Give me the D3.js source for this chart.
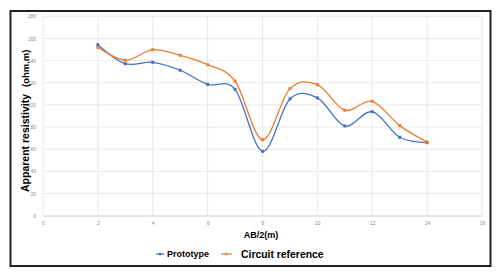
<!DOCTYPE html>
<html>
<head>
<meta charset="utf-8">
<script src="https://cdn.jsdelivr.net/npm/d3@7"></script>
<style>
  body { margin: 0; background: #fff; }
  text { font-family: "Liberation Sans", Arial, sans-serif; }
</style>
</head>
<body>
<svg class="chart"></svg>
<script>
var spacing = [2, 3, 4, 5, 6, 7, 8, 9, 10, 11, 12, 13, 14]
var prototype = [154.4, 137.2, 138.5, 131.3, 118.6, 114.1, 58.1, 105.4, 106.3, 81, 93.9, 70.8, 65.9]
var circuit = [152, 140.3, 149.9, 144.8, 136.3, 121.6, 68.6, 114.7, 118.3, 95.2, 103.3, 81.3, 66.5]
var xTicks = [0, 2, 4, 6, 8, 10, 12, 14, 16]
var yTicks = [0, 20, 40, 60, 80, 100, 120, 140, 160, 180]

var width = 500;
var height = 273;
var svg = d3.select(".chart").attr("width", width).attr("height", height)

// outer frame
svg.append("rect")
    .attr("x", 10.5).attr("y", 11)
    .attr("width", 480).attr("height", 255)
    .attr("fill", "#fff")
    .attr("stroke", "#222")
    .attr("stroke-width", 2);

var x_scale = d3.scaleLinear().domain([0, 16]).range([43, 482]);
var y_scale = d3.scaleLinear().domain([0, 180]).range([215.7, 16.3]);

// grid
svg.append("g").selectAll("line").data(yTicks).join("line")
    .attr("x1", 43).attr("x2", 482)
    .attr("y1", function(d){ return y_scale(d) }).attr("y2", function(d){ return y_scale(d) })
    .attr("stroke", "#e4e4e4").attr("stroke-width", 0.8);
svg.append("g").selectAll("line").data(xTicks).join("line")
    .attr("y1", y_scale(0)).attr("y2", y_scale(180))
    .attr("x1", function(d){ return x_scale(d) }).attr("x2", function(d){ return x_scale(d) })
    .attr("stroke", "#e4e4e4").attr("stroke-width", 0.8);

var x_axis = d3.axisBottom(x_scale).tickValues(xTicks).tickSize(0).tickPadding(6)
var y_axis = d3.axisLeft(y_scale).tickValues(yTicks).tickSize(0).tickPadding(7)

var gx = svg.append("g").attr("transform", "translate(0," + y_scale(0) + ")").call(x_axis)
var gy = svg.append("g").attr("transform", "translate(43,0)").call(y_axis)
gx.select(".domain").attr("stroke", "#d9d9d9")
gy.select(".domain").remove()
svg.selectAll(".tick text").attr("fill", "#8a8a8a").style("font-size", "5px")

// series
var series = [
  {name: "Prototype", values: prototype, color: "#4472C4"},
  {name: "Circuit reference", values: circuit, color: "#ED7D31"}
]

var line = d3.line()
    .x(function(d, i){ return x_scale(spacing[i]) })
    .y(function(d){ return y_scale(d) })
    .curve(d3.curveCatmullRom.alpha(0))

series.forEach(function(s){
  svg.append("path")
      .attr("d", line(s.values))
      .attr("fill", "none")
      .attr("stroke", s.color)
      .attr("stroke-width", 1.3);
  svg.append("g").selectAll("rect").data(s.values).join("rect")
      .attr("x", function(d, i){ return x_scale(spacing[i]) - 1.5 })
      .attr("y", function(d){ return y_scale(d) - 1.5 })
      .attr("width", 3).attr("height", 3)
      .attr("fill", s.color);
});

// axis titles
svg.append("text")
    .attr("x", 261).attr("y", 238)
    .attr("text-anchor", "middle")
    .style("font-size", "9px").style("font-weight", "bold")
    .text("AB/2(m)");

svg.append("text")
    .attr("transform", "translate(29,192) rotate(-90)")
    .style("font-size", "10.5px").style("font-weight", "bold")
    .text("Apparent resistivity");
svg.append("text")
    .attr("transform", "translate(29,87) rotate(-90)")
    .style("font-size", "9.5px").style("font-weight", "bold")
    .text("(ohm.m)");

// legend
var legend = [
  {x: 156, color: "#4472C4", size: "9px", label: "Prototype"},
  {x: 221, color: "#ED7D31", size: "10.4px", label: "Circuit reference"}
]
legend.forEach(function(l){
  var lw = l.label == "Prototype" ? 8 : 11;
  svg.append("line")
      .attr("x1", l.x).attr("x2", l.x + lw)
      .attr("y1", 254).attr("y2", 254)
      .attr("stroke", l.color).attr("stroke-width", 1.2);
  svg.append("rect")
      .attr("x", l.x + lw / 2 - 1.2).attr("y", 252.8)
      .attr("width", 2.4).attr("height", 2.4)
      .attr("fill", l.color);
  svg.append("text")
      .attr("x", l.x + lw + (l.label == "Prototype" ? 3 : 9)).attr("y", 254)
      .attr("dy", "0.35em")
      .style("font-size", l.size).style("font-weight", "bold")
      .text(l.label);
});
</script>
</body>
</html>
